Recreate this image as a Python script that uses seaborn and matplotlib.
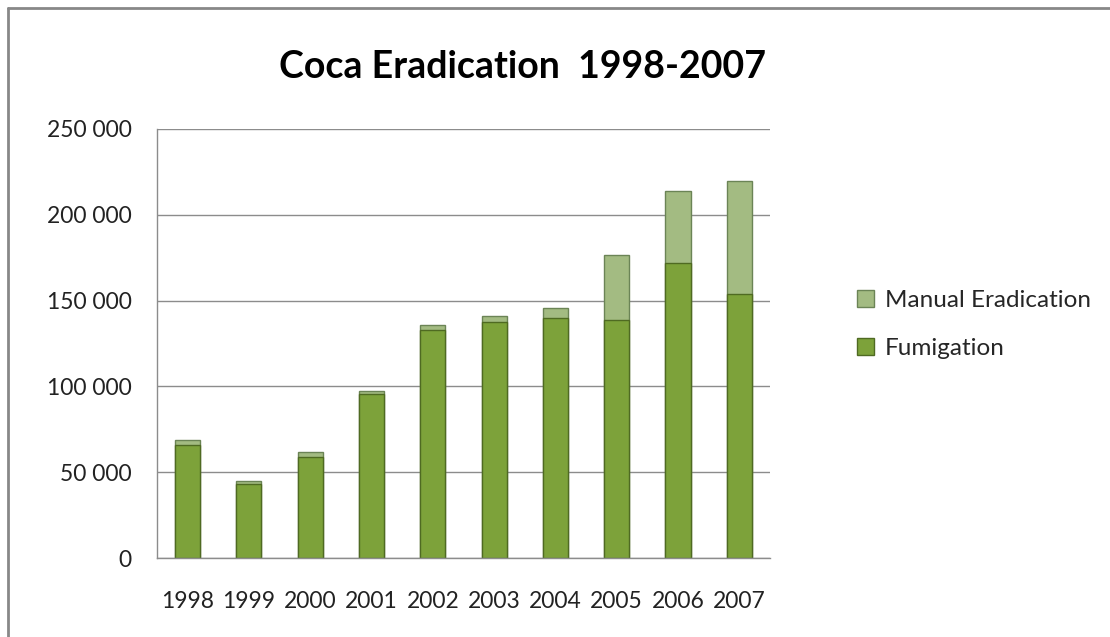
import pandas as pd
import matplotlib.pyplot as plt
import seaborn as sns
from matplotlib.patches import Patch
from matplotlib.lines import Line2D
from matplotlib.ticker import FuncFormatter, FixedLocator

years = ['1998', '1999', '2000', '2001', '2002', '2003', '2004', '2005', '2006', '2007']
fumigation = [66000, 43300, 58800, 95800, 132800, 137500, 139800, 138800, 172200, 153800]
manual = [3000, 1300, 3000, 1800, 2800, 3300, 5700, 38000, 41800, 66000]

df = pd.DataFrame({'year': years, 'fumigation': fumigation, 'manual': manual})
df['total'] = df['fumigation'] + df['manual']

sns.set_style('white')
plt.rcParams['font.family'] = ['Lato', 'DejaVu Sans']

fum_color = '#7da23a'
fum_edge = '#4f6a22'
man_color = '#a3bb82'
man_edge = '#6b8456'

fig = plt.figure(figsize=(11.1, 6.37), dpi=100)
ax = fig.add_axes([0.1414, 0.124, 0.5523, 0.6735])

# stacked bars: draw totals first, then fumigation over them
sns.barplot(data=df, x='year', y='total', color=man_color, width=0.41,
            edgecolor=man_edge, linewidth=1, saturation=1, ax=ax)
sns.barplot(data=df, x='year', y='fumigation', color=fum_color, width=0.41,
            edgecolor=fum_edge, linewidth=1, saturation=1, ax=ax)

ax.set_xlim(-0.5, len(years) - 0.5)
ax.set_ylim(0, 250000)
ax.set_yticks(range(0, 250001, 50000))
ax.yaxis.set_major_formatter(FuncFormatter(lambda v, p: f'{int(v):,}'.replace(',', ' ')))
ax.yaxis.grid(True, color='#8c8c8c', linewidth=1)
ax.set_axisbelow(True)
ax.set_xlabel('')
ax.set_ylabel('')

for s in ['top', 'right']:
    ax.spines[s].set_visible(False)
for s in ['left', 'bottom']:
    ax.spines[s].set_color('#8c8c8c')
    ax.spines[s].set_linewidth(1)

# tick marks between categories, labels centered
ax.xaxis.set_minor_locator(FixedLocator([i - 0.5 for i in range(len(years) + 1)]))
ax.tick_params(axis='x', which='major', length=0, pad=24, labelsize=16.5, colors='#222222')
ax.tick_params(axis='x', which='minor', length=9, color='#8c8c8c', direction='out')
ax.tick_params(axis='y', length=9, color='#8c8c8c', pad=9, labelsize=16.5, labelcolor='#222222')

fig.text(0.4705, 0.895, 'Coca Eradication  1998-2007', ha='center', va='center',
         fontsize=27, fontweight='bold', color='black')

handles = [Patch(facecolor=man_color, edgecolor=man_edge, label='Manual Eradication'),
           Patch(facecolor=fum_color, edgecolor=fum_edge, label='Fumigation')]
fig.legend(handles=handles, loc='center left', bbox_to_anchor=(0.772, 0.491),
           frameon=False, fontsize=17.5, handlelength=0.7, handleheight=0.7,
           handletextpad=0.45, labelspacing=1.1, borderpad=0, borderaxespad=0)

# outer chart frame (top and left edges visible)
x0, y0 = 7.5 / 1110, 1 - 7.5 / 637
fig.add_artist(Line2D([x0, 1.0], [y0, y0], transform=fig.transFigure,
                      color='#888888', linewidth=2))
fig.add_artist(Line2D([x0, x0], [0.0, y0], transform=fig.transFigure,
                      color='#888888', linewidth=2))

fig.savefig('out.png', dpi=100)
